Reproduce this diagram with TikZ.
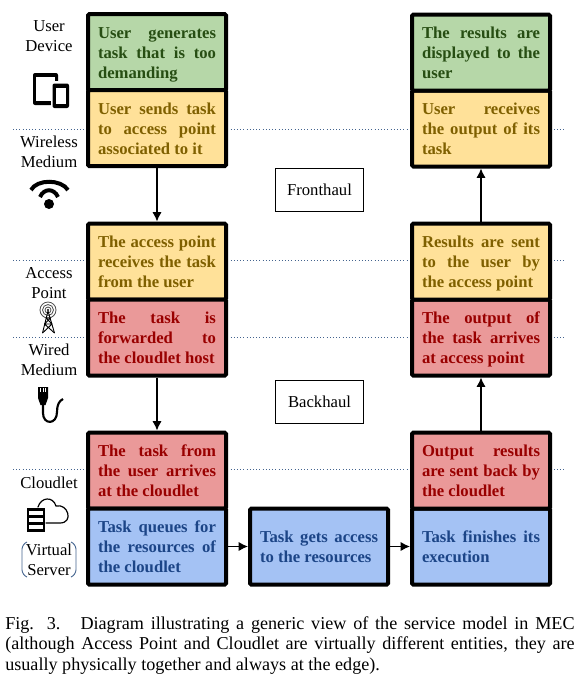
\documentclass[tikz,border=0pt]{standalone}
\usepackage{fontspec}
\setmainfont{Liberation Serif}
\usepackage{xcolor}
\usetikzlibrary{arrows.meta, positioning}
\definecolor{greenfill}{HTML}{B6D7A8}
\definecolor{greentext}{HTML}{274E13}
\definecolor{yellowfill}{HTML}{FFE199}
\definecolor{yellowtext}{HTML}{7F6000}
\definecolor{redfill}{HTML}{EA9999}
\definecolor{redtext}{HTML}{990000}
\definecolor{bluefill}{HTML}{A4C2F4}
\definecolor{bluetext}{HTML}{1C4587}
\definecolor{dotline}{HTML}{44648F}
\newcommand{\fl}[1]{\makebox[\hsize][s]{#1}}
\tikzstyle{stage} = [draw=black, line width=3pt, rounded corners=1pt, minimum width=103.5pt, minimum height=57pt, inner sep=0pt, text width=88.5pt, align=flush left, font=\fontsize{12.5}{15}\selectfont\bfseries, execute at begin node=\rule{0pt}{13.5pt}, execute at end node=\strut]
\tikzstyle{green} = [stage, fill=greenfill, text=greentext]
\tikzstyle{yellow} = [stage, fill=yellowfill, text=yellowtext]
\tikzstyle{red} = [stage, fill=redfill, text=redtext]
\tikzstyle{blue} = [stage, fill=bluefill, text=bluetext]
\tikzstyle{layer} = [align=center, inner sep=0pt, font=\fontsize{12.5}{15}\selectfont]
\tikzstyle{haul} = [draw=black, line width=1.1pt, minimum width=66pt, minimum height=32pt, font=\fontsize{12.5}{15}\selectfont]
\tikzstyle{arrow} = [line width=1.1pt, -{Latex[length=7pt,width=7pt]}]
\tikzstyle{border} = [dotted, thin, dotline]
\begin{document}
\begin{tikzpicture}[x=0.75pt,y=-0.75pt]
    \useasboundingbox (0,0) rectangle (582,683);
    \foreach \ypos in {129,260,337,469} {
        \draw[border] (13,\ypos) -- (565,\ypos);
    }

    % left column
    \node[green] (generate) at (157,52) {\fl{User generates}\\\fl{task that is too}\\demanding};
    \node[yellow, below=-3pt of generate] (send) {\fl{User sends task}\\\fl{to access point}\\associated to it};
    \node[yellow] (receive) at (157,261.5) {\fl{The access point}\\\fl{receives the task}\\from the user};
    \node[red, below=-3pt of receive] (forward) {\fl{The task is}\\\fl{forwarded to}\\the cloudlet host};
    \node[red] (arrive) at (157,470.5) {\fl{The task from}\\\fl{the user arrives}\\at the cloudlet};
    \node[blue, below=-3pt of arrive] (queue) {\fl{Task queues for}\\\fl{the resources of}\\the cloudlet};

    % middle and right column
    \node[blue, right=15pt of queue] (access) {\fl{Task gets access}\\to the resources};
    \node[blue, right=15pt of access] (finish) {\fl{Task finishes its}\\execution};
    \node[red, above=-3pt of finish] (output) {\fl{Output results}\\\fl{are sent back by}\\the cloudlet};
    \node[red] (outarrive) at (481,337.5) {\fl{The output of}\\\fl{the task arrives}\\at access point};
    \node[yellow, above=-3pt of outarrive] (sentback) {\fl{Results are sent}\\\fl{to the user by}\\the access point};
    \node[yellow] (outreceive) at (481,128.5) {\fl{User receives}\\\fl{the output of its}\\task};
    \node[green, above=-3pt of outreceive] (display) {\fl{The results are}\\\fl{displayed to the}\\user};

    \node[haul] (fronthaul) at (319.5,190) {Fronthaul};
    \node[haul] (backhaul) at (319.5,402) {Backhaul};

    \draw[arrow] (send) -- (receive);
    \draw[arrow] (forward) -- (arrive);
    \draw[arrow] (queue) -- (access);
    \draw[arrow] (access) -- (finish);
    \draw[arrow] (output) -- (outarrive);
    \draw[arrow] (sentback) -- (outreceive);

    % layer labels
    \node[layer] (device) at (49,36) {User\\Device};
    \node[layer] (wireless) at (49,152) {Wireless\\Medium};
    \node[layer] (point) at (49,283) {Access\\Point};
    \node[layer] (wired) at (49,360) {Wired\\Medium};
    \node[layer] (cloudlet) at (49,483) {Cloudlet};
    \node[layer] (virtual) at (49,560) {Virtual\\Server};

    % tablet and phone
    \fill[rounded corners=1.5pt] (33,73) rectangle (58,105);
    \fill[white] (36,77) rectangle (55,101);
    \fill[white] (51,81) rectangle (71,110);
    \fill[rounded corners=1.5pt] (52.5,83.5) rectangle (69,108);
    \fill[white] (55.5,87.5) rectangle (66,103.5);

    % wifi
    \draw[line width=3pt] (31,190) .. controls (37,179) and (61,179) .. (68,190);
    \draw[line width=3pt] (40,197) .. controls (44,188) and (54,188) .. (58,197);
    \fill (49,204) circle[radius=5];

    % antenna
    \foreach \rad in {3,5.5,8} {
        \draw[black!70, line width=0.6pt] (48,310) circle[radius=\rad];
    }
    \fill[black] (48,310) circle[radius=1.2];
    \draw[line width=0.7pt] (48,311) -- (42.5,333) (48,311) -- (54.5,333);
    \draw[line width=0.7pt] (46,318) -- (50.5,318) (44.5,324) -- (52,324) (46,318) -- (52,324) (50.5,318) -- (44.5,324) (44.5,324) -- (54.5,333) (52,324) -- (42.5,333);

    % plug
    \fill (38,387) -- (48,387) -- (48,398) -- (45.5,405) -- (40.5,405) -- (38,398) -- cycle;
    \draw[white, line width=0.5pt] (40.5,388) -- (40.5,392) (43,388) -- (43,392) (45.5,388) -- (45.5,392);
    \draw[line width=1.6pt] (43,405) -- (43,413) .. controls (43,425) and (57,425) .. (57,412) .. controls (57,405) and (59,401) .. (63,399);

    % server and cloud
    \fill (27,508) rectangle (45,532);
    \foreach \ypos in {510.5,517.5,524.5} {
        \fill[white] (29,\ypos) rectangle (43,\ypos+4);
    }
    \draw[line width=0.9pt, line cap=round] (38,507) .. controls (41,497) and (53,496) .. (56,506) .. controls (68,503) and (74,523) .. (60,523) -- (46,523);

    % virtual server brackets
    \draw[dotline, line width=0.7pt, rounded corners=4pt] (27,542) -- (22,544) -- (22,575) -- (27,577);
    \draw[dotline, line width=0.7pt, rounded corners=4pt] (71,542) -- (76,544) -- (76,575) -- (71,577);

    % caption
    \node[anchor=north west, inner sep=0pt, text width=427pt, align=flush left, font=\fontsize{13.6}{15.4}\selectfont] (caption) at (5,616) {\fl{Fig. 3.\hspace{0.4em} Diagram illustrating a generic view of the service model in MEC}\\\fl{(although Access Point and Cloudlet are virtually different entities, they are}\\usually physically together and always at the edge).};
\end{tikzpicture}
\end{document}
